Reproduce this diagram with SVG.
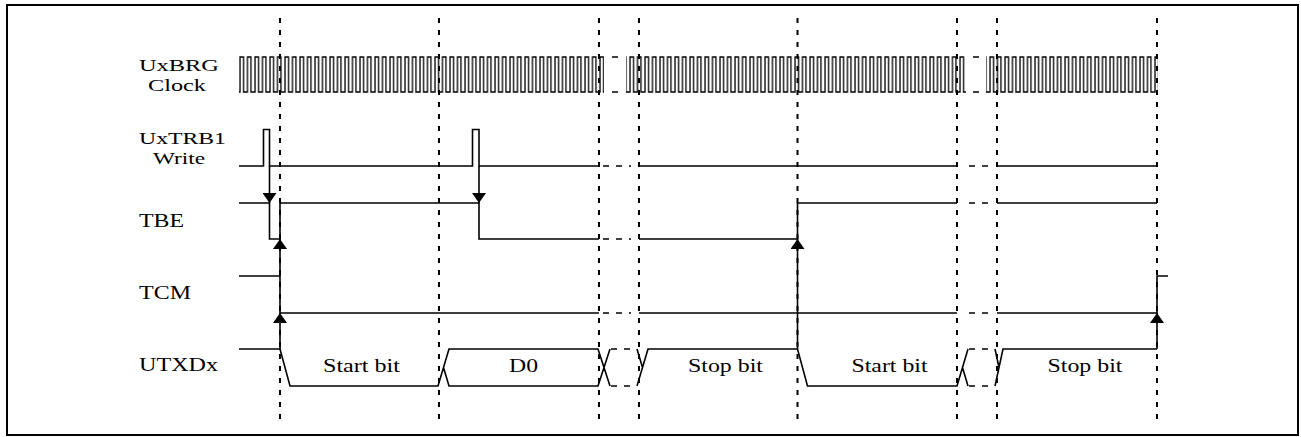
<svg xmlns="http://www.w3.org/2000/svg" width="1301" height="437" viewBox="0 0 1301 437">
<style>
.sig{fill:none;stroke:#000;stroke-width:1.6;stroke-linejoin:miter}
.gap{fill:none;stroke:#000;stroke-width:1.6;stroke-dasharray:6 7}
.guide{fill:none;stroke:#000;stroke-width:2;stroke-dasharray:5 7}
.arr{fill:none;stroke:#000;stroke-width:1.6;marker-end:url(#ah)}
.lbl{font-family:"Liberation Serif","Times New Roman",serif;font-size:19px;fill:#000}
.two{font-size:17.5px}
.mid{text-anchor:middle;font-size:19.5px}
</style>
<defs>
<marker id="ah" viewBox="0 0 10 14" refX="10" refY="7" markerWidth="10" markerHeight="14" markerUnits="userSpaceOnUse" orient="auto">
<path d="M0,0 L10,7 L0,14 z" fill="#000"/>
</marker>
<pattern id="clk" patternUnits="userSpaceOnUse" x="239" y="55" width="7.5" height="40">
<path d="M0,37 H1 V2 H4.5 V37 H7.5" fill="none" stroke="#000" stroke-width="1.3"/>
</pattern>
</defs>
<rect x="0" y="0" width="1301" height="437" fill="#fff"/>
<rect x="7" y="5" width="1291" height="430" fill="#fff" stroke="#000" stroke-width="2"/>

<g id="guides">
<line class="guide" x1="280" y1="18" x2="280" y2="425"/>
<line class="guide" x1="439" y1="18" x2="439" y2="425"/>
<line class="guide" x1="599" y1="18" x2="599" y2="425"/>
<line class="guide" x1="639" y1="18" x2="639" y2="425"/>
<line class="guide" x1="797.5" y1="18" x2="797.5" y2="425"/>
<line class="guide" x1="957" y1="18" x2="957" y2="425"/>
<line class="guide" x1="997" y1="18" x2="997" y2="425"/>
<line class="guide" x1="1157" y1="18" x2="1157" y2="425"/>
</g>

<g id="clock">
<text class="lbl two" x="139" y="71" textLength="80" lengthAdjust="spacingAndGlyphs">UxBRG</text>
<text class="lbl two" x="148" y="91" textLength="58" lengthAdjust="spacingAndGlyphs">Clock</text>
<rect x="239" y="55" width="365" height="40" fill="url(#clk)"/>
<rect x="626" y="55" width="340" height="40" fill="url(#clk)"/>
<rect x="986" y="55" width="172" height="40" fill="url(#clk)"/>
<path class="sig" d="M612,57 H618 M612,92 H618 M973,57 H979 M973,92 H979"/>
</g>

<g id="write">
<text class="lbl two" x="139" y="144" textLength="87" lengthAdjust="spacingAndGlyphs">UxTRB1</text>
<text class="lbl two" x="153" y="164" textLength="52" lengthAdjust="spacingAndGlyphs">Write</text>
<path class="sig" d="M239,166 H263.5 V129.5 H269.5 V166 H472.5 V129.5 H479 V166 H599 M639,166 H957 M997,166 H1157"/>
<path class="gap" d="M603,166 H631 M969,166 H990"/>
</g>

<g id="tbe">
<text class="lbl" x="139" y="227" textLength="45" lengthAdjust="spacingAndGlyphs">TBE</text>
<path class="sig" d="M239,203 H269.5 V239 H280 V203 H479 V239 H599 M639,239 H797.5 V203 H957 M997,203 H1157"/>
<path class="gap" d="M603,239 H631 M969,203 H990"/>
</g>

<g id="tcm">
<text class="lbl" x="139" y="299" textLength="52" lengthAdjust="spacingAndGlyphs">TCM</text>
<path class="sig" d="M239,276 H280 V313 H599 M639,313 H957 M997,313 H1157 V276 H1168"/>
<path class="gap" d="M603,313 H631 M969,313 H990"/>
</g>

<g id="utxd">
<text class="lbl" x="139" y="371" textLength="79" lengthAdjust="spacingAndGlyphs">UTXDx</text>
<path class="sig" d="M239,349 H280 L290,386 H438 L449,349 H598 L610,386 M443.5,367.5 L449,386 H598 L610,349 M637,349 L642.5,367.5 M637,386 L648,349 H797.5 L807.5,386 H957 L968,349 M962.5,367.5 L968,386 M995,349 L999,367.5 M995,386 L1003,349 H1157"/>
<path class="gap" d="M611,349 H637 M611,386 H637 M969,349 H995 M969,386 H995"/>
<text class="lbl mid" x="361.5" y="372" textLength="77" lengthAdjust="spacingAndGlyphs">Start bit</text>
<text class="lbl mid" x="523.5" y="372" textLength="29" lengthAdjust="spacingAndGlyphs">D0</text>
<text class="lbl mid" x="725.5" y="372" textLength="75" lengthAdjust="spacingAndGlyphs">Stop bit</text>
<text class="lbl mid" x="889.5" y="372" textLength="76" lengthAdjust="spacingAndGlyphs">Start bit</text>
<text class="lbl mid" x="1085" y="372" textLength="75" lengthAdjust="spacingAndGlyphs">Stop bit</text>
</g>

<g id="connectors">
<path class="arr" d="M269.5,166 V203"/>
<path class="arr" d="M479,166 V203"/>
<path class="arr" d="M280,349 V313"/>
<path class="arr" d="M280,276 V239"/>
<path class="arr" d="M797.5,349 V239"/>
<path class="arr" d="M1157,349 V313"/>
</g>
</svg>
